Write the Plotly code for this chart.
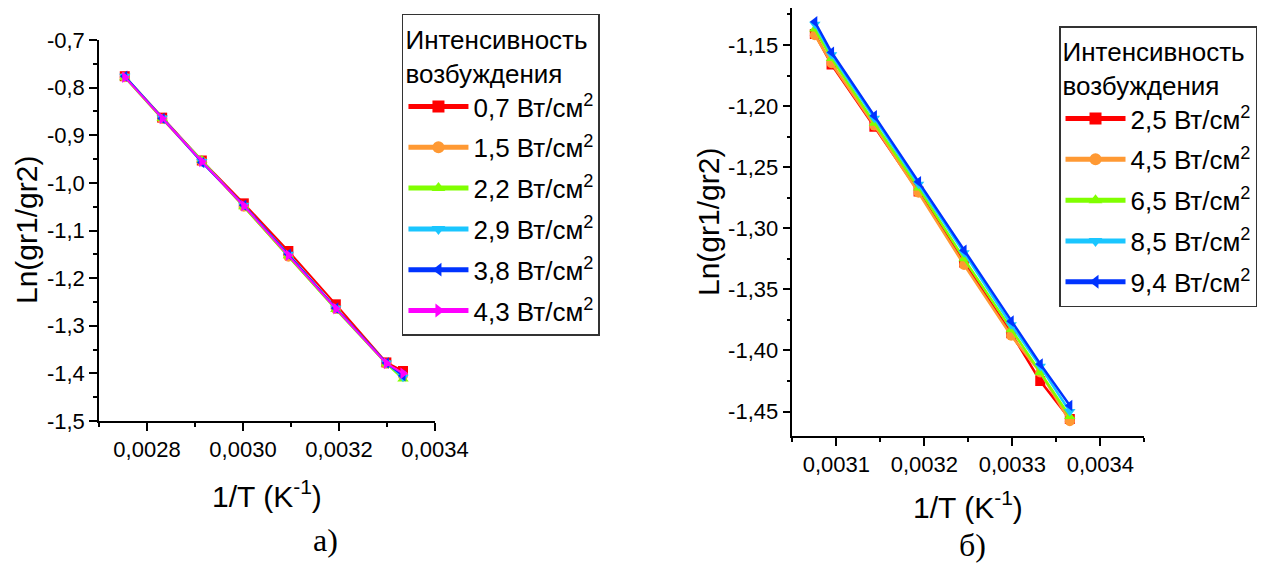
import plotly.graph_objects as go

# ---------------- data: panel а) ----------------
x_a = [0.0027537, 0.0028316, 0.0029142, 0.0030017, 0.0030945, 0.0031934, 0.0032987, 0.0033333]
names_a = ["0,7 Вт/см<sup>2</sup>", "1,5 Вт/см<sup>2</sup>", "2,2 Вт/см<sup>2</sup>",
           "2,9 Вт/см<sup>2</sup>", "3,8 Вт/см<sup>2</sup>", "4,3 Вт/см<sup>2</sup>"]
y_a_07 = [-0.776, -0.863, -0.953, -1.043, -1.143, -1.255, -1.377, -1.395]
y_a_15 = [-0.778, -0.866, -0.955, -1.050, -1.155, -1.265, -1.380, -1.405]
y_a_22 = [-0.779, -0.865, -0.952, -1.050, -1.153, -1.266, -1.380, -1.412]
y_a_29 = [-0.776, -0.864, -0.955, -1.047, -1.150, -1.263, -1.378, -1.408]
y_a_38 = [-0.776, -0.865, -0.957, -1.047, -1.150, -1.263, -1.378, -1.405]
y_a_43 = [-0.778, -0.865, -0.955, -1.048, -1.152, -1.264, -1.379, -1.400]

# ---------------- data: panel б) ----------------
x_b = [0.0030755, 0.0030945, 0.0031432, 0.0031934, 0.0032451, 0.0032987, 0.0033317, 0.0033653]
names_b = ["2,5 Вт/см<sup>2</sup>", "4,5 Вт/см<sup>2</sup>", "6,5 Вт/см<sup>2</sup>",
           "8,5 Вт/см<sup>2</sup>", "9,4 Вт/см<sup>2</sup>"]
y_b_25 = [-1.141, -1.166, -1.217, -1.270, -1.328, -1.386, -1.425, -1.456]
y_b_45 = [-1.142, -1.165, -1.216, -1.271, -1.330, -1.388, -1.418, -1.458]
y_b_65 = [-1.137, -1.161, -1.214, -1.267, -1.325, -1.383, -1.418, -1.454]
y_b_85 = [-1.133, -1.158, -1.210, -1.264, -1.320, -1.379, -1.413, -1.450]
y_b_94 = [-1.131, -1.156, -1.208, -1.262, -1.318, -1.376, -1.411, -1.445]

# ---------------- ticks ----------------
xa_major = [0.0028, 0.0030, 0.0032, 0.0034]
xa_minor = [0.0027, 0.0029, 0.0031, 0.0033]
ya_major = [-1.5, -1.4, -1.3, -1.2, -1.1, -1.0, -0.9, -0.8, -0.7]
ya_minor = [-1.45, -1.35, -1.25, -1.15, -1.05, -0.95, -0.85, -0.75]
xb_major = [0.0031, 0.0032, 0.0033, 0.0034]
xb_minor = [0.00305, 0.00315, 0.00325, 0.00335, 0.00345]
yb_major = [-1.45, -1.40, -1.35, -1.30, -1.25, -1.20, -1.15]
yb_minor = [-1.425, -1.375, -1.325, -1.275, -1.225, -1.175, -1.125]

colors = ["#FF0000", "#FF9933", "#80FF00", "#1AC6FF", "#0033FF", "#FF00FF"]
symbols = ["square", "circle", "triangle-up", "triangle-down", "triangle-left", "triangle-right"]

FONT = "Liberation Sans"


def fmt(v, d):
    return f"{v:.{d}f}".replace(".", ",")


fig = go.Figure()

for i, ys in enumerate([y_a_07, y_a_15, y_a_22, y_a_29, y_a_38, y_a_43]):
    fig.add_trace(go.Scatter(
        x=x_a, y=ys, name=names_a[i], mode="lines+markers",
        line=dict(color=colors[i], width=2),
        marker=dict(color=colors[i], symbol=symbols[i], size=10),
        legendgroup=f"a{i}",
        xaxis="x", yaxis="y", legend="legend"))

for i, ys in enumerate([y_b_25, y_b_45, y_b_65, y_b_85, y_b_94]):
    fig.add_trace(go.Scatter(
        x=x_b, y=ys, name=names_b[i], mode="lines+markers",
        line=dict(color=colors[i], width=2.5),
        marker=dict(color=colors[i], symbol=symbols[i], size=10),
        legendgroup=f"b{i}",
        xaxis="x2", yaxis="y2", legend="legend2"))

axis_common = dict(showline=True, linecolor="black", linewidth=1.5, mirror=False,
                   ticks="outside", ticklen=8, tickwidth=1.5, tickcolor="black",
                   showgrid=False, zeroline=False, automargin=False,
                   tickfont=dict(family=FONT, size=22, color="black"))


def minor(vals):
    return dict(tickvals=vals, ticks="outside", ticklen=4, tickwidth=1.5,
                tickcolor="black", showgrid=False)


legend_common = dict(xanchor="left", yanchor="top", bgcolor="white",
                     bordercolor="#333333", borderwidth=1.5,
                     font=dict(family=FONT, size=26, color="black"),
                     title=dict(text="Интенсивность<br>возбуждения",
                                font=dict(family=FONT, size=26, color="black")),
                     itemsizing="constant", traceorder="grouped",
                     tracegroupgap=4, itemwidth=60)

fig.update_layout(
    template="none",
    width=1266, height=566,
    margin=dict(l=0, r=0, t=0, b=0, pad=0, autoexpand=False),
    paper_bgcolor="white", plot_bgcolor="white",
    showlegend=True,
    xaxis=dict(domain=[0.0782, 0.3436], range=[0.0027, 0.0034], anchor="y",
               tickvals=xa_major, ticktext=[fmt(v, 4) for v in xa_major],
               minor=minor(xa_minor), **axis_common),
    yaxis=dict(domain=[0.2562, 0.9293], range=[-1.5, -0.7], anchor="x",
               tickvals=ya_major, ticktext=[fmt(v, 1) for v in ya_major],
               minor=minor(ya_minor), **axis_common),
    xaxis2=dict(domain=[0.6259, 0.9039], range=[0.00305, 0.00345], anchor="y2",
                tickvals=xb_major, ticktext=[fmt(v, 4) for v in xb_major],
                minor=minor(xb_minor), **axis_common),
    yaxis2=dict(domain=[0.2297, 0.9853], range=[-1.47, -1.12], anchor="x2",
                tickvals=yb_major, ticktext=[fmt(v, 2) for v in yb_major],
                minor=minor(yb_minor), **axis_common),
    legend=dict(x=0.3175, y=0.9753, **legend_common),
    legend2=dict(x=0.8365, y=0.954, **legend_common),
)

title_font = dict(family=FONT, size=30, color="black")
ann = [
    dict(text="Ln(gr1/gr2)", x=26, y=230, textangle=-90),
    dict(text="Ln(gr1/gr2)", x=708, y=222, textangle=-90),
    dict(text="1/T (K<sup>-1</sup>)", x=267, y=494, textangle=0),
    dict(text="1/T (K<sup>-1</sup>)", x=968, y=505, textangle=0),
]
for a in ann:
    fig.add_annotation(text=a["text"], x=a["x"] / 1266, y=1 - a["y"] / 566,
                       xref="paper", yref="paper", xanchor="center", yanchor="middle",
                       textangle=a["textangle"], showarrow=False, font=title_font)

panel_font = dict(family="Liberation Serif", size=32, color="black")
fig.add_annotation(text="а)", x=325 / 1266, y=1 - 540 / 566, xref="paper", yref="paper",
                   xanchor="center", yanchor="middle", showarrow=False, font=panel_font)
fig.add_annotation(text="б)", x=972 / 1266, y=1 - 545 / 566, xref="paper", yref="paper",
                   xanchor="center", yanchor="middle", showarrow=False, font=panel_font)

fig.write_html("out.html")
